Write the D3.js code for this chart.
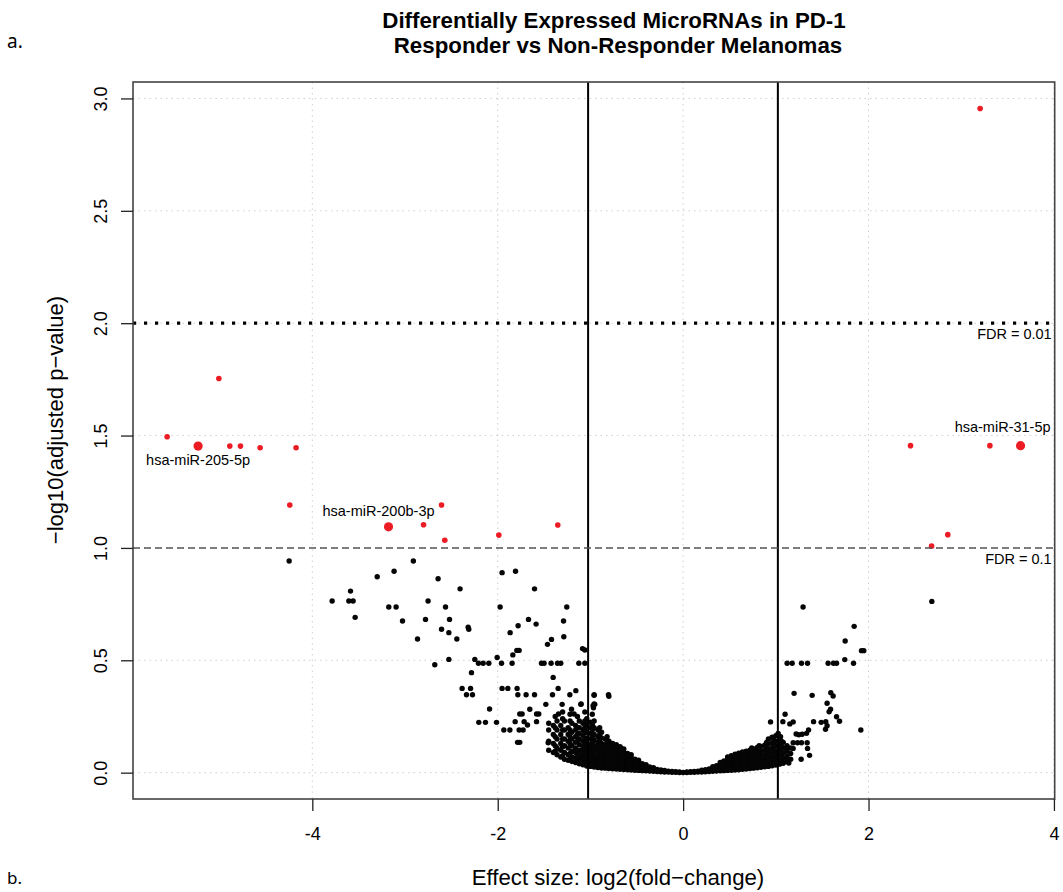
<!DOCTYPE html>
<html>
<head>
<meta charset="utf-8">
<script src="https://cdn.jsdelivr.net/npm/d3@7"></script>
<style>
  body { margin: 0; background: #fff; }
  svg text { font-family: "Liberation Sans", Arial, sans-serif; fill: #000; }
</style>
</head>
<body>
<div id="chart"></div>
<script>
// ---------- values ----------
var xTicks = [-4, -2, 0, 2, 4];
var yTicks = [0, 0.5, 1, 1.5, 2, 2.5, 3];
var yTickLabels = ["0.0", "0.5", "1.0", "1.5", "2.0", "2.5", "3.0"];
var foldCutoffs = [-1.025, 1.022];
var fdrValues = [2, 1];
var fdrLabels = ["FDR = 0.01", "FDR = 0.1"];

// significant microRNAs (red)
var sigX = [-5.566, -5.008, -4.890, -4.775, -4.563, -4.175, -4.243, -2.800, -2.606, -2.571, -1.988, -1.352,
            3.204, 2.453, 3.309, 2.855, 2.680];
var sigY = [1.495, 1.754, 1.453, 1.453, 1.446, 1.446, 1.191, 1.103, 1.191, 1.034, 1.057, 1.102,
            2.955, 1.455, 1.455, 1.059, 1.008];

// labelled microRNAs (big red)
var labelNames = ["hsa-miR-205-5p", "hsa-miR-200b-3p", "hsa-miR-31-5p"];
var labelX = [-5.232, -3.178, 3.640];
var labelY = [1.453, 1.094, 1.455];

// not significant, scattered points
var nsX = [-4.250, -2.910, -3.118, -3.300, -2.643, -1.953, -1.808, -2.406, -1.603, -3.588, -3.786, -3.606, -3.560,
           -2.751, -3.175, -3.096, -2.563, -1.974, -1.255, -3.538, -3.027, -2.779, -2.520, -1.668, -1.290, -1.586,
           -1.780, -2.606, -2.319, -2.312, -2.527, -1.866, -2.865, -2.441, -1.287, -1.420, -1.463, -1.085, -1.060,
           -1.794, -1.769, -1.837, -2.006, -2.247, -2.527, -2.679,
           -2.208, -2.157, -2.096, -1.959, -1.845, -1.528, -1.500, -1.424, -1.355, -1.320, -1.125, -1.060,
           -2.283, -1.402, -2.384, -2.293, -1.953, -1.891, -1.791, -1.348, -1.157,
           -2.337, -2.272, -1.783, -1.694, -1.603, -1.409, -1.222, -0.960, -0.805,
           -1.481, -1.305, -1.104, -0.953, -0.967, -2.088, -1.654, -1.204,
           -1.762, -1.737, -1.581, -1.557, -1.344, -1.176, -2.204, -2.132, -2.013,
           -1.812, -1.715, -1.679, -1.581, -1.934, -1.869, -1.769, -1.726, -1.786, -1.762, -1.456,
           -0.960, -0.801, -0.971, -0.960, -1.100,
           1.294, 1.845, 1.748, 1.924, 1.949, 1.744, 1.838, 1.122, 1.176, 1.277, 1.342, 1.564, 1.622, 1.655,
           1.197, 1.392, 1.593, 1.618, 1.553, 1.575, 1.590, 1.655, 1.687, 1.407, 1.489, 1.539, 1.553, 1.536,
           1.917, 1.100, 1.076, 1.151, 1.187, 0.943, 1.353, 1.331, 1.284, 1.248, 1.219,
           1.338, 1.277, 1.234, 1.187, 1.342, 1.187, 1.108, 1.364, 1.273, 1.140, 1.025, 1.051, 2.683];
var nsY = [0.942, 0.942, 0.896, 0.872, 0.863, 0.890, 0.896, 0.818, 0.818, 0.808, 0.764, 0.764, 0.764,
           0.764, 0.737, 0.737, 0.737, 0.737, 0.737, 0.691, 0.675, 0.682, 0.682, 0.682, 0.675, 0.661,
           0.654, 0.638, 0.647, 0.638, 0.623, 0.623, 0.595, 0.595, 0.605, 0.593, 0.571, 0.552, 0.546,
           0.544, 0.544, 0.524, 0.513, 0.504, 0.504, 0.480,
           0.487, 0.487, 0.487, 0.487, 0.487, 0.487, 0.487, 0.487, 0.487, 0.487, 0.487, 0.487,
           0.445, 0.424, 0.375, 0.375, 0.375, 0.375, 0.375, 0.375, 0.365,
           0.347, 0.347, 0.347, 0.347, 0.347, 0.347, 0.347, 0.347, 0.347,
           0.304, 0.304, 0.304, 0.304, 0.289, 0.283, 0.282, 0.282,
           0.261, 0.261, 0.261, 0.261, 0.261, 0.261, 0.224, 0.224, 0.224,
           0.227, 0.227, 0.212, 0.227, 0.190, 0.190, 0.190, 0.190, 0.135, 0.135, 0.133,
           0.344, 0.340, 0.298, 0.306, 0.306,
           0.737, 0.651, 0.586, 0.543, 0.543, 0.503, 0.487, 0.487, 0.487, 0.487, 0.487, 0.487, 0.487, 0.487,
           0.353, 0.344, 0.356, 0.341, 0.309, 0.271, 0.282, 0.249, 0.229, 0.227, 0.224, 0.227, 0.209, 0.193,
           0.190, 0.260, 0.227, 0.217, 0.226, 0.226, 0.190, 0.175, 0.171, 0.169, 0.172,
           0.133, 0.133, 0.133, 0.133, 0.108, 0.108, 0.108, 0.077, 0.060, 0.043, 0.175, 0.160, 0.762];

// the dense cloud around zero, column by column (x, then its y values)
var denseX = [-1.45, -1.40, -1.36, -1.32, -1.28, -1.24, -1.20, -1.16, -1.12, -1.08, -1.04, -1.00, -0.96, -0.92,
              -0.88, -0.84, -0.80, -0.76, -0.72, -0.68, -0.64, -0.60, -0.56, -0.52, -0.48, -0.44, -0.40, -0.36,
              -0.32, -0.28, -0.24, -0.20, -0.16, -0.12, -0.08, -0.04, 0.00, 0.04, 0.08, 0.12, 0.16, 0.20, 0.24,
              0.28, 0.32, 0.36, 0.40, 0.44, 0.48, 0.52, 0.56, 0.60, 0.64, 0.68, 0.72, 0.76, 0.80, 0.84, 0.88,
              0.92, 0.96, 1.00, 1.04, 1.08, 1.12, 1.16];
var denseY = [
  [0.10, 0.14, 0.19, 0.22],
  [0.09, 0.13, 0.17, 0.21],
  [0.08, 0.11, 0.15, 0.19, 0.23],
  [0.07, 0.10, 0.13, 0.17, 0.21],
  [0.06, 0.09, 0.12, 0.15, 0.19, 0.23],
  [0.055, 0.08, 0.11, 0.14, 0.17, 0.20],
  [0.05, 0.07, 0.095, 0.12, 0.15, 0.18, 0.22],
  [0.045, 0.065, 0.09, 0.11, 0.135, 0.16, 0.19, 0.21],
  [0.04, 0.06, 0.08, 0.10, 0.125, 0.15, 0.175, 0.20, 0.23],
  [0.035, 0.055, 0.075, 0.095, 0.115, 0.14, 0.165, 0.19, 0.22],
  [0.03, 0.05, 0.07, 0.09, 0.11, 0.13, 0.155, 0.18, 0.21, 0.24],
  [0.028, 0.045, 0.065, 0.085, 0.105, 0.125, 0.15, 0.175, 0.20, 0.225],
  [0.025, 0.042, 0.06, 0.08, 0.10, 0.12, 0.145, 0.17, 0.20, 0.23],
  [0.023, 0.04, 0.058, 0.076, 0.095, 0.115, 0.135, 0.16, 0.19],
  [0.021, 0.037, 0.055, 0.072, 0.09, 0.11, 0.13, 0.155, 0.18],
  [0.02, 0.034, 0.05, 0.067, 0.085, 0.105, 0.125, 0.15],
  [0.018, 0.032, 0.047, 0.063, 0.08, 0.098, 0.12, 0.14],
  [0.017, 0.03, 0.044, 0.06, 0.076, 0.093, 0.11, 0.13],
  [0.016, 0.028, 0.041, 0.056, 0.071, 0.087, 0.105, 0.125],
  [0.015, 0.026, 0.038, 0.052, 0.066, 0.08, 0.097, 0.115],
  [0.014, 0.024, 0.036, 0.048, 0.061, 0.075, 0.09, 0.105],
  [0.013, 0.022, 0.033, 0.045, 0.057, 0.07, 0.085],
  [0.012, 0.02, 0.03, 0.041, 0.052, 0.065, 0.08],
  [0.011, 0.018, 0.027, 0.037, 0.048, 0.06],
  [0.01, 0.016, 0.025, 0.034, 0.044, 0.055],
  [0.009, 0.015, 0.022, 0.031, 0.04],
  [0.008, 0.013, 0.02, 0.028, 0.036],
  [0.007, 0.012, 0.018, 0.025],
  [0.006, 0.011, 0.016, 0.022],
  [0.005, 0.009, 0.014],
  [0.004, 0.008, 0.012],
  [0.003, 0.007, 0.010],
  [0.003, 0.006],
  [0.002, 0.005],
  [0.002, 0.004],
  [0.001, 0.003],
  [0.001],
  [0.001, 0.003],
  [0.002, 0.004],
  [0.002, 0.005],
  [0.003, 0.006],
  [0.003, 0.007, 0.011],
  [0.004, 0.008, 0.013],
  [0.005, 0.010, 0.016],
  [0.006, 0.012, 0.019, 0.027],
  [0.007, 0.014, 0.022, 0.031],
  [0.008, 0.016, 0.025, 0.035, 0.046],
  [0.009, 0.018, 0.028, 0.039, 0.052],
  [0.010, 0.020, 0.031, 0.043, 0.057, 0.070],
  [0.011, 0.022, 0.034, 0.047, 0.061, 0.076],
  [0.012, 0.024, 0.037, 0.051, 0.066, 0.082],
  [0.013, 0.026, 0.040, 0.055, 0.070, 0.087],
  [0.015, 0.028, 0.043, 0.058, 0.074, 0.092],
  [0.016, 0.030, 0.046, 0.062, 0.078, 0.096],
  [0.018, 0.033, 0.049, 0.066, 0.083, 0.100],
  [0.020, 0.036, 0.052, 0.070, 0.088, 0.106],
  [0.022, 0.038, 0.055, 0.073, 0.092, 0.112],
  [0.024, 0.040, 0.058, 0.077, 0.096, 0.117],
  [0.026, 0.043, 0.061, 0.080, 0.100, 0.122],
  [0.028, 0.046, 0.065, 0.085, 0.105, 0.128, 0.150],
  [0.031, 0.050, 0.070, 0.090, 0.110, 0.133, 0.158],
  [0.034, 0.054, 0.075, 0.096, 0.118, 0.140, 0.165],
  [0.038, 0.058, 0.080, 0.102, 0.125, 0.150],
  [0.042, 0.063, 0.086, 0.110, 0.135],
  [0.050, 0.072, 0.095, 0.120],
  [0.060, 0.085, 0.110]
];

// extra columns in between, where the cloud is thickest
var cloudMidX = [-1.38, -1.30, -1.22, -1.14, -1.06, -0.98, -0.90, -0.82, -0.74, -0.66, -0.58, -0.50,
                 0.50, 0.58, 0.66, 0.74, 0.82, 0.90, 0.98, 1.06];
var cloudMidY = [
  [0.095, 0.12, 0.16, 0.20, 0.25],
  [0.075, 0.115, 0.15, 0.19, 0.24, 0.27],
  [0.06, 0.085, 0.13, 0.16, 0.19, 0.23, 0.26],
  [0.05, 0.075, 0.10, 0.14, 0.17, 0.20, 0.25],
  [0.04, 0.065, 0.085, 0.105, 0.125, 0.15, 0.18, 0.20, 0.23, 0.27],
  [0.035, 0.055, 0.075, 0.095, 0.115, 0.135, 0.16, 0.19, 0.215, 0.26],
  [0.03, 0.048, 0.067, 0.085, 0.105, 0.125, 0.145, 0.17, 0.20],
  [0.026, 0.042, 0.058, 0.075, 0.093, 0.112, 0.135, 0.16],
  [0.022, 0.037, 0.052, 0.068, 0.085, 0.10, 0.12],
  [0.02, 0.032, 0.045, 0.059, 0.073, 0.088, 0.105],
  [0.017, 0.027, 0.038, 0.05, 0.062, 0.075],
  [0.014, 0.022, 0.031, 0.041, 0.052],
  [0.015, 0.026, 0.038, 0.05, 0.065],
  [0.018, 0.03, 0.044, 0.058, 0.074],
  [0.022, 0.036, 0.052, 0.068, 0.086],
  [0.026, 0.042, 0.058, 0.076, 0.094, 0.11],
  [0.03, 0.047, 0.064, 0.082, 0.102, 0.12],
  [0.035, 0.054, 0.072, 0.092, 0.112, 0.135],
  [0.04, 0.06, 0.08, 0.10, 0.122, 0.145],
  [0.05, 0.07, 0.092, 0.115, 0.14]
];

// ---------- build the point table ----------
var points = [];
function addColumns(xs, ys) {
  xs.forEach(function (x, i) {
    ys[i].forEach(function (y) { points.push({x: x, y: y, kind: "ns"}); });
  });
}
addColumns(denseX, denseY);
addColumns(cloudMidX, cloudMidY);
nsX.forEach(function (x, i) { points.push({x: x, y: nsY[i], kind: "ns"}); });
sigX.forEach(function (x, i) { points.push({x: x, y: sigY[i], kind: "sig"}); });
labelX.forEach(function (x, i) { points.push({x: x, y: labelY[i], kind: "label", name: labelNames[i]}); });

// ---------- svg + scales ----------
var width = 1063, height = 892;
var box = {left: 133, right: 1054.7, top: 82, bottom: 799};

var svg = d3.select("#chart").append("svg")
  .attr("width", width)
  .attr("height", height);

// R style: data range padded by 4% on each side
function padded(ext) {
  var d = ext[1] - ext[0];
  return [ext[0] - 0.04 * d, ext[1] + 0.04 * d];
}
var xScale = d3.scaleLinear()
  .domain(padded(d3.extent(points, function (d) { return d.x; })))
  .range([box.left, box.right]);
var yScale = d3.scaleLinear()
  .domain(padded(d3.extent(points, function (d) { return d.y; })))
  .range([box.bottom, box.top]);

// grid lines (light grey, dotted)
var grid = svg.append("g")
  .attr("stroke", "#cfcfcf")
  .attr("stroke-width", 1)
  .attr("stroke-dasharray", "1.5,4");
grid.selectAll("line.gx")
  .data(xTicks)
  .enter().append("line")
  .attr("x1", function (d) { return xScale(d); })
  .attr("x2", function (d) { return xScale(d); })
  .attr("y1", box.top)
  .attr("y2", box.bottom);
grid.selectAll("line.gy")
  .data(yTicks)
  .enter().append("line")
  .attr("y1", function (d) { return yScale(d); })
  .attr("y2", function (d) { return yScale(d); })
  .attr("x1", box.left)
  .attr("x2", box.right);

// points
var dots = svg.append("g");
dots.selectAll("circle")
  .data(points)
  .enter().append("circle")
  .attr("cx", function (d) { return xScale(d.x); })
  .attr("cy", function (d) { return yScale(d.y); })
  .attr("r", function (d) { return d.kind === "label" ? 4.6 : (d.kind === "sig" ? 2.8 : 2.7); })
  .attr("fill", function (d) { return d.kind === "ns" ? "#050505" : "#ec1c24"; });

// fold-change cutoffs
svg.append("g").selectAll("line")
  .data(foldCutoffs)
  .enter().append("line")
  .attr("x1", function (d) { return xScale(d); })
  .attr("x2", function (d) { return xScale(d); })
  .attr("y1", box.top)
  .attr("y2", box.bottom)
  .attr("stroke", "#000")
  .attr("stroke-width", 2);

// FDR lines: 0.01 thick dotted, 0.1 dashed grey
svg.append("line")
  .attr("x1", box.left).attr("x2", box.right)
  .attr("y1", yScale(fdrValues[0])).attr("y2", yScale(fdrValues[0]))
  .attr("stroke", "#000")
  .attr("stroke-width", 3.2)
  .attr("stroke-dasharray", "3.2,7.8");
svg.append("line")
  .attr("x1", box.left).attr("x2", box.right)
  .attr("y1", yScale(fdrValues[1])).attr("y2", yScale(fdrValues[1]))
  .attr("stroke", "#555")
  .attr("stroke-width", 1.6)
  .attr("stroke-dasharray", "7,4");

svg.append("g").selectAll("text")
  .data(fdrValues)
  .enter().append("text")
  .attr("x", box.right - 3)
  .attr("y", function (d) { return yScale(d) + 16; })
  .attr("text-anchor", "end")
  .style("font-size", "14.5px")
  .text(function (d, i) { return fdrLabels[i]; });

// labels for the named microRNAs
var labelPos = [
  {dx: 0, dy: 19, anchor: "middle"},
  {dx: -10, dy: -11, anchor: "middle"},
  {dx: 30, dy: -14, anchor: "end"}
];
svg.append("g").selectAll("text")
  .data(labelNames)
  .enter().append("text")
  .attr("x", function (d, i) { return xScale(labelX[i]) + labelPos[i].dx; })
  .attr("y", function (d, i) { return yScale(labelY[i]) + labelPos[i].dy; })
  .attr("text-anchor", function (d, i) { return labelPos[i].anchor; })
  .style("font-size", "14.5px")
  .text(function (d) { return d; });

// plot box
svg.append("rect")
  .attr("x", box.left)
  .attr("y", box.top)
  .attr("width", box.right - box.left)
  .attr("height", box.bottom - box.top)
  .attr("fill", "none")
  .attr("stroke", "#444")
  .attr("stroke-width", 1.6);

// axes
var xAxis = d3.axisBottom(xScale)
  .tickValues(xTicks)
  .tickSize(12)
  .tickPadding(16)
  .tickFormat(function (d) { return String(d); });
var xAxisGroup = svg.append("g")
  .attr("transform", "translate(0," + box.bottom + ")")
  .call(xAxis);
xAxisGroup.select(".domain").remove();
xAxisGroup.selectAll("line").attr("stroke", "#222").attr("stroke-width", 1.3);
xAxisGroup.selectAll("text")
  .style("font-size", "18px")
  .style("font-family", "Liberation Sans, Arial, sans-serif");

var yAxis = d3.axisLeft(yScale)
  .tickValues(yTicks)
  .tickSize(12)
  .tickFormat(function (d, i) { return yTickLabels[i]; });
var yAxisGroup = svg.append("g")
  .attr("transform", "translate(" + box.left + ",0)")
  .call(yAxis);
yAxisGroup.select(".domain").remove();
yAxisGroup.selectAll("line").attr("stroke", "#222").attr("stroke-width", 1.3);
yAxisGroup.selectAll("text")
  .attr("x", null)
  .attr("dy", null)
  .attr("text-anchor", "middle")
  .attr("transform", "translate(-26,0) rotate(-90)")
  .style("font-size", "18px")
  .style("font-family", "Liberation Sans, Arial, sans-serif");

// axis titles
svg.append("text")
  .attr("x", 618)
  .attr("y", 885)
  .attr("text-anchor", "middle")
  .style("font-size", "22.2px")
  .text("Effect size: log2(fold\u2212change)");
svg.append("text")
  .attr("transform", "translate(63,420) rotate(-90)")
  .attr("text-anchor", "middle")
  .style("font-size", "22px")
  .text("\u2212log10(adjusted p\u2212value)");

// title
var title = svg.append("text")
  .attr("x", 614)
  .attr("text-anchor", "middle")
  .style("font-size", "22.3px")
  .style("font-weight", "bold");
title.append("tspan").attr("x", 614).attr("y", 28).text("Differentially Expressed MicroRNAs in PD-1");
title.append("tspan").attr("x", 618).attr("y", 53).text("Responder vs Non-Responder Melanomas");

// panel letters
svg.append("text")
  .attr("x", 7).attr("y", 48)
  .style("font-family", "Noto Sans, sans-serif")
  .style("font-size", "19px")
  .text("a.");
svg.append("text")
  .attr("x", 7).attr("y", 884)
  .style("font-family", "Noto Sans, sans-serif")
  .style("font-size", "17px")
  .text("b.");
</script>
</body>
</html>
